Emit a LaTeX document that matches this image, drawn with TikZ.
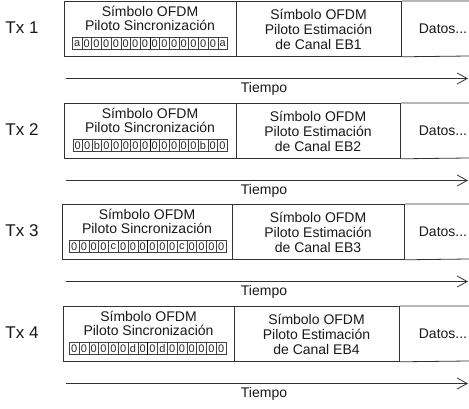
\documentclass[tikz,border=0pt]{standalone}
\usepackage{fontspec}
\setmainfont{Liberation Sans}
\usetikzlibrary{arrows.meta}
\newcommand\txrow[9]{%
  % #1 index, #2 top, #3 left, #4 div1, #5 div2, #6 cell left, #7 cell width, #8 cells, #9 label
  \pgfmathsetmacro\wa{#4-#3}\pgfmathsetmacro\wb{#5-#4}
  \node[box, minimum width=\wa pt, anchor=north west] (s#1) at (#3,#2) {};
  \node[box, minimum width=\wb pt, anchor=north west] (e#1) at (#4,#2) {};
  \coordinate (rt#1) at (469,#2);
  \coordinate (rb#1) at (469,#2+55);
  \draw[boxline] (e#1.north east) -- (rt#1) (e#1.south east) -- (rb#1);
  \node[tx] (tx#1) at (22,#2+27) {Tx #9};
  \node[txt] (sa#1) at ({(#3+#4)/2},#2+10) {Símbolo OFDM};
  \node[txt] (sb#1) at ({(#3+#4)/2},#2+24) {Piloto Sincronización};
  \node[txt] (ea#1) at ({(#4+#5)/2},#2+13) {Símbolo OFDM};
  \node[txt] (eb#1) at ({(#4+#5)/2},#2+28) {Piloto Estimación};
  \node[txt] (ec#1) at ({(#4+#5)/2},#2+43) {de Canal EB#9};
  \node[txt] (d#1) at (443,#2+28) {Datos...};
  \foreach \c [count=\i] in {#8} {
    \node[cell, minimum width=#7 pt, anchor=north west] (c#1-\i) at ({#6+(\i-1)*#7},#2+36) {\c};
  }
  \draw[midline] (c#1-8.north east) -- (c#1-8.south east);
  \coordinate (a#1) at (66,#2+77.5);
  \coordinate (b#1) at (468,#2+77.5);
  \draw[timearrow] (a#1) -- (b#1);
  \node[txt] (t#1) at (264,#2+88) {Tiempo};
}
\begin{document}
\begin{tikzpicture}[x=1pt,y=-1pt,
  box/.style={draw=black!80, line width=0.8pt, minimum height=55pt, inner sep=0pt},
  boxline/.style={draw=black!80, line width=0.8pt},
  txt/.style={font=\fontsize{14}{14}\selectfont, text=black!90, inner sep=0pt},
  tx/.style={font=\fontsize{17}{17}\selectfont, text=black!90, inner sep=0pt},
  cell/.style={draw=black!75, line width=0.5pt, minimum height=12pt, inner sep=0pt,
    font=\fontsize{11}{11}\selectfont, text=black!85},
  midline/.style={draw=black, line width=1pt},
  timearrow/.style={draw=black!80, line width=0.8pt,
    -{Straight Barb[length=10pt, width=11pt, line width=0.8pt]}},
]
\useasboundingbox (0,0) rectangle (469,409);
\fill[white] (0,0) rectangle (469,409);
\txrow{1}{1}{64}{236}{401}{72}{9.7}{a,0,0,0,0,0,0,0,0,0,0,0,0,0,0,a}{1}
\txrow{2}{103}{64}{236}{400}{72.5}{9.65}{0,0,b,0,0,0,0,0,0,0,0,0,0,b,0,0}{2}
\txrow{3}{204}{62}{232}{404}{69}{9.8}{0,0,0,0,c,0,0,0,0,0,0,c,0,0,0,0}{3}
\txrow{4}{306}{63}{234}{399}{69}{9.8}{0,0,0,0,0,0,d,0,0,d,0,0,0,0,0,0}{4}
\end{tikzpicture}
\end{document}
